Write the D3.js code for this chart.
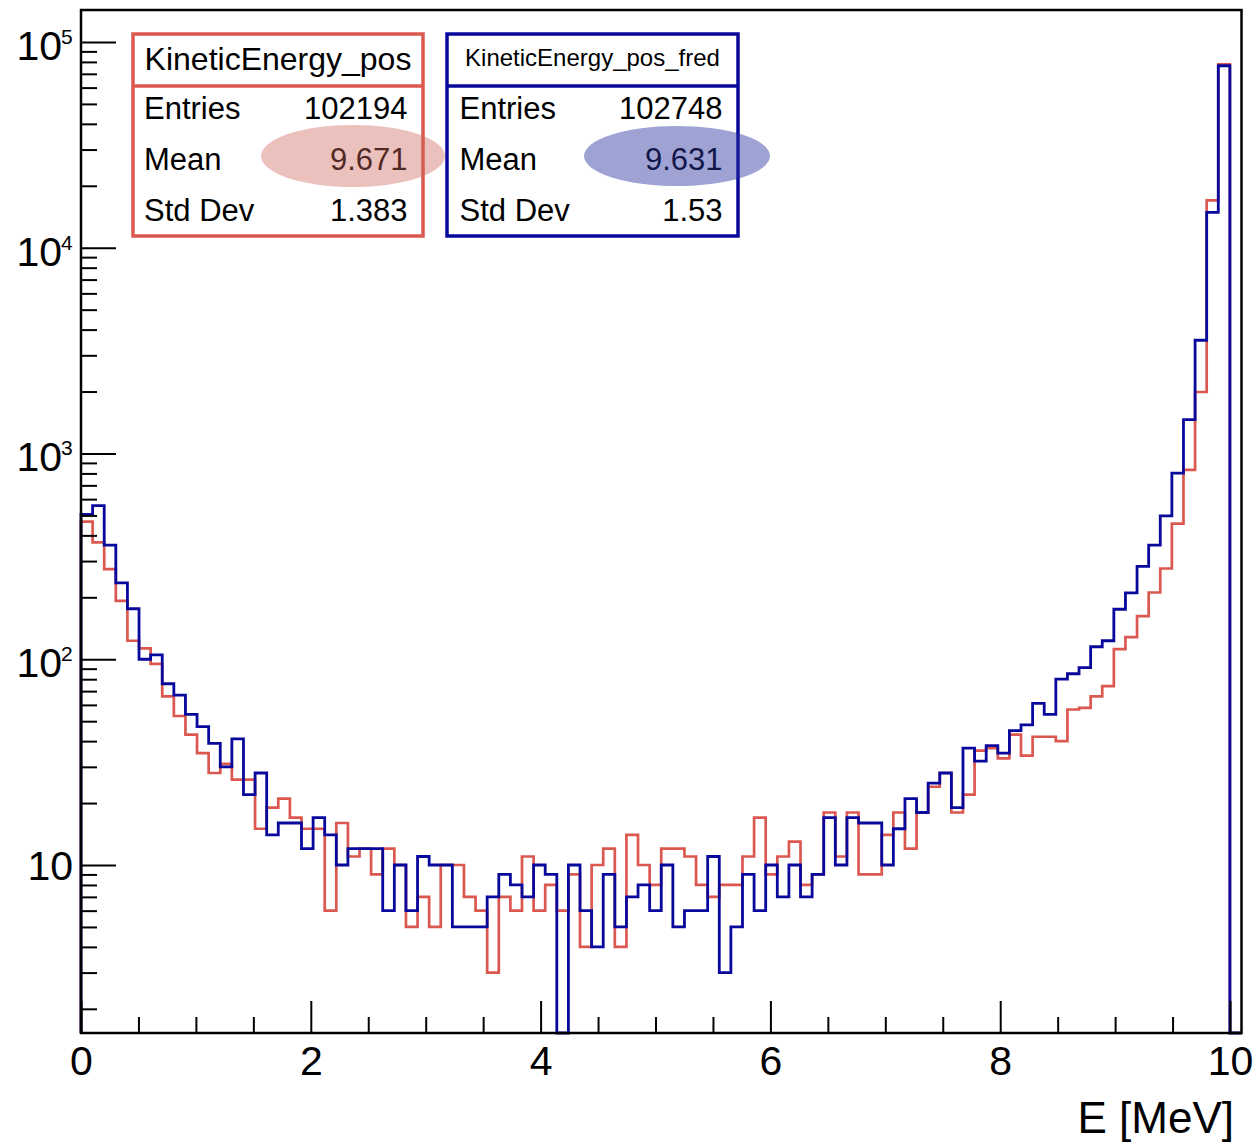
<!DOCTYPE html>
<html>
<head>
<meta charset="utf-8">
<script src="https://cdn.jsdelivr.net/npm/d3@7"></script>
<style>
  body { margin: 0; background: #fff; }
  svg { display: block; font-family: "Liberation Sans", Arial, Helvetica, sans-serif; }
</style>
</head>
<body>
<div id="chart"></div>
<script>
// histogram definition (100 bins from 0 to 10.1 MeV)
const xMin = 0;
const xMax = 10.1;
const nBins = 100;

// bin contents
const countsPos = [
  467, 370, 274, 192, 123, 113, 95, 66, 53, 43,
  35, 28, 31, 26, 26, 15, 19, 21, 17, 15,
  15, 6, 16, 11, 12, 9, 12, 10, 5, 7,
  5, 10, 10, 7, 6, 3, 7, 6, 11, 6,
  8, 6, 9, 4, 10, 12, 4, 14, 10, 8,
  12, 12, 11, 8, 7, 8, 8, 11, 17, 9,
  11, 13, 8, 9, 18, 11, 18, 9, 9, 14,
  18, 12, 18, 24, 28, 18, 22, 36, 37, 33,
  43, 34, 42, 42, 40, 57, 58, 66, 74, 112,
  128, 162, 211, 276, 456, 832, 1990, 17000, 77800, 0
];

const countsFred = [
  506, 558, 359, 235, 176, 100, 105, 76, 67, 54,
  47, 39, 30, 41, 22, 28, 14, 16, 16, 12,
  17, 14, 10, 12, 12, 12, 6, 10, 6, 11,
  10, 10, 5, 5, 5, 7, 9, 8, 7, 10,
  9, 0, 10, 6, 4, 9, 5, 7, 8, 6,
  10, 5, 6, 6, 11, 3, 5, 9, 6, 10,
  7, 10, 7, 9, 17, 10, 17, 16, 16, 10,
  15, 21, 18, 25, 28, 19, 37, 32, 38, 35,
  45, 48, 61, 54, 80, 85, 91, 115, 123, 175,
  210, 283, 359, 497, 802, 1462, 3550, 14860, 76640, 0
];

const xMajorTicks = [0, 2, 4, 6, 8, 10];
const xMinorTicks = [0.5, 1, 1.5, 2.5, 3, 3.5, 4.5, 5, 5.5, 6.5, 7, 7.5, 8.5, 9, 9.5];
const yDecades = [10, 100, 1000, 10000, 100000];
const yDecadeLabels = ["10", "10", "10", "10", "10"];
const yDecadeExps = ["", "2", "3", "4", "5"];
const yDomain = [1.526, 143000];

const statsPos = {title: "KineticEnergy_pos", rows: [["Entries", "102194"], ["Mean", "9.671"], ["Std Dev", "1.383"]]};
const statsFred = {title: "KineticEnergy_pos_fred", rows: [["Entries", "102748"], ["Mean", "9.631"], ["Std Dev", "1.53"]]};

const redColor = "#db5850";
const blueColor = "#08089c";

class LogHistPlot {
    constructor(_config) {
        this.config = {
            parentElement: _config.parentElement,
            containerWidth: _config.containerWidth || 1258,
            containerHeight: _config.containerHeight || 1143,
            frame: _config.frame || {left: 81, right: 1241.5, top: 10, bottom: 1033}
        };
        this.initVis();
    }

    initVis() {
        let vis = this;
        let f = vis.config.frame;

        vis.svg = d3.select(vis.config.parentElement)
            .append("svg")
            .attr("width", vis.config.containerWidth)
            .attr("height", vis.config.containerHeight);

        vis.xScale = d3.scaleLinear()
            .domain([xMin, xMax])
            .range([f.left, f.right]);

        vis.yScale = d3.scaleLog()
            .domain(yDomain)
            .range([f.bottom, f.top]);

        vis.binWidth = (xMax - xMin) / nBins;
    }

    // step outline of one histogram, empty bins sit on the frame bottom
    drawHist(counts, color, width) {
        let vis = this;
        let bottom = vis.config.frame.bottom;
        let yOf = v => (v < yDomain[0]) ? bottom : vis.yScale(v);

        let pts = [[xMin, bottom]];
        counts.forEach((c, i) => pts.push([xMin + i * vis.binWidth, yOf(c)]));
        pts.push([xMax, yOf(counts[counts.length - 1])]);
        pts.push([xMax, bottom]);

        let line = d3.line()
            .x(d => vis.xScale(d[0]))
            .y(d => d[1])
            .curve(d3.curveStepAfter);

        vis.svg.append("path")
            .attr("d", line(pts))
            .attr("fill", "none")
            .attr("stroke", color)
            .attr("stroke-width", width)
            .attr("stroke-linejoin", "miter");
    }

    renderVis() {
        let vis = this;
        let f = vis.config.frame;

        vis.drawHist(countsPos, redColor, 2.7);
        vis.drawHist(countsFred, blueColor, 2.8);

        // x axis ticks (drawn inward)
        let xMinorAxis = d3.axisBottom(vis.xScale).tickValues(xMinorTicks).tickSize(-16).tickFormat("");
        let xMajorAxis = d3.axisBottom(vis.xScale).tickValues(xMajorTicks).tickSize(-32).tickPadding(13).tickFormat(d3.format("d"));

        vis.svg.append("g")
            .attr("transform", `translate(0, ${f.bottom})`)
            .call(xMinorAxis);
        let xg = vis.svg.append("g")
            .attr("transform", `translate(0, ${f.bottom})`)
            .call(xMajorAxis);
        xg.selectAll("text")
            .attr("font-size", "41px")
            .attr("font-family", "Liberation Sans, Arial, sans-serif")
            .attr("fill", "#000");

        // y axis ticks
        let yMinor = vis.yScale.ticks().filter(v => !yDecades.includes(v));
        let yMinorAxis = d3.axisLeft(vis.yScale).tickValues(yMinor).tickSize(-16).tickFormat("");
        let yMajorAxis = d3.axisLeft(vis.yScale).tickValues(yDecades).tickSize(-35).tickFormat("");

        vis.svg.append("g")
            .attr("transform", `translate(${f.left}, 0)`)
            .call(yMinorAxis);
        vis.svg.append("g")
            .attr("transform", `translate(${f.left}, 0)`)
            .call(yMajorAxis);

        vis.svg.selectAll(".domain").remove();
        vis.svg.selectAll(".tick line")
            .attr("stroke", "#000")
            .attr("stroke-width", 2);

        // y labels: 10, 10^2 ... 10^5
        yDecades.forEach((v, i) => {
            let y = vis.yScale(v);
            if (yDecadeExps[i] === "") {
                vis.svg.append("text")
                    .attr("x", 73)
                    .attr("y", y + 15)
                    .attr("text-anchor", "end")
                    .attr("font-size", "41px")
                    .text(yDecadeLabels[i]);
            } else {
                vis.svg.append("text")
                    .attr("x", 62)
                    .attr("y", y + 18)
                    .attr("text-anchor", "end")
                    .attr("font-size", "41px")
                    .text(yDecadeLabels[i]);
                vis.svg.append("text")
                    .attr("x", 61)
                    .attr("y", y + 2)
                    .attr("font-size", "21px")
                    .text(yDecadeExps[i]);
            }
        });

        // frame
        vis.svg.append("rect")
            .attr("x", f.left)
            .attr("y", f.top)
            .attr("width", f.right - f.left)
            .attr("height", f.bottom - f.top)
            .attr("fill", "none")
            .attr("stroke", "#000")
            .attr("stroke-width", 2.5);

        // axis title
        vis.svg.append("text")
            .attr("x", 1234)
            .attr("y", 1133)
            .attr("text-anchor", "end")
            .attr("font-size", "44px")
            .text("E [MeV]");

        // stat boxes
        vis.drawStats(statsPos, redColor, 133, 290, 32, 70, 144, 407.5);
        vis.drawStats(statsFred, blueColor, 447, 291, 24, 66, 459.5, 722.5);

        // highlight ellipses over the means
        vis.svg.append("ellipse")
            .attr("cx", 353).attr("cy", 156)
            .attr("rx", 92).attr("ry", 31)
            .attr("fill", "rgba(205, 100, 90, 0.4)");
        vis.svg.append("ellipse")
            .attr("cx", 677).attr("cy", 156)
            .attr("rx", 93).attr("ry", 30)
            .attr("fill", "rgba(40, 50, 160, 0.45)");
    }

    drawStats(stats, color, x, w, titleSize, titleBase, labelX, valueX) {
        let vis = this;
        let top = 34, h = 202, divider = 86;
        let g = vis.svg.append("g");

        g.append("rect")
            .attr("x", x).attr("y", top)
            .attr("width", w).attr("height", h)
            .attr("fill", "#fff")
            .attr("stroke", color)
            .attr("stroke-width", 3.5);
        g.append("line")
            .attr("x1", x).attr("x2", x + w)
            .attr("y1", divider).attr("y2", divider)
            .attr("stroke", color)
            .attr("stroke-width", 3.5);

        g.append("text")
            .attr("x", x + w / 2)
            .attr("y", titleBase)
            .attr("text-anchor", "middle")
            .attr("font-size", titleSize + "px")
            .text(stats.title);

        let rowBase = [119, 170, 221];
        stats.rows.forEach((r, i) => {
            g.append("text")
                .attr("x", labelX)
                .attr("y", rowBase[i])
                .attr("font-size", "31px")
                .text(r[0]);
            g.append("text")
                .attr("x", valueX)
                .attr("y", rowBase[i])
                .attr("text-anchor", "end")
                .attr("font-size", "31px")
                .text(r[1]);
        });
    }
}

let plot = new LogHistPlot({parentElement: "#chart"});
plot.renderVis();
</script>
</body>
</html>
